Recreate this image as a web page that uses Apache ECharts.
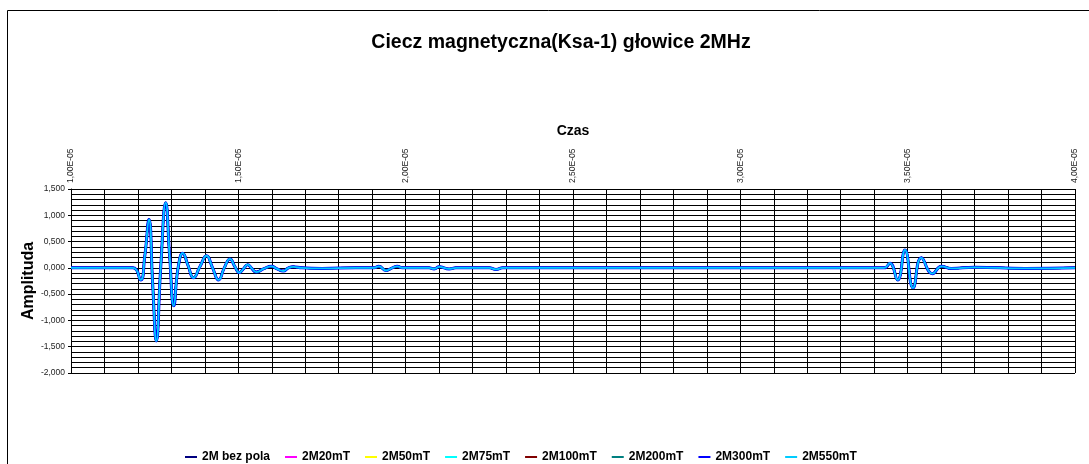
<!DOCTYPE html>
<html>
<head>
<meta charset="utf-8">
<script src="https://cdn.jsdelivr.net/npm/echarts@6/dist/echarts.min.js"></script>
<style>
html,body{margin:0;padding:0;background:#fff;}
#c{width:1089px;height:464px;}
</style>
</head>
<body>
<div id="c"></div>
<script>
// Time in microseconds (axis labels show seconds: 1,00E-05 ... 4,00E-05)
const timeUs = [10.0, 11.85, 12.08, 12.2, 12.33, 12.44, 12.55, 12.68, 12.83, 12.95, 13.07, 13.2, 13.34, 13.5, 13.66, 13.85, 14.05, 14.23, 14.41, 14.58, 14.75, 14.9, 15.03, 15.15, 15.28, 15.4, 15.53, 15.75, 15.99, 16.16, 16.34, 16.5, 16.64, 16.9, 17.5, 18.5, 19.05, 19.2, 19.41, 19.6, 19.75, 19.9, 20.7, 20.85, 21.0, 21.3, 21.5, 22.5, 22.7, 22.9, 34.3, 34.47, 34.7, 34.92, 35.16, 35.41, 35.74, 36.01, 36.3, 37.0, 38.5, 40.0];
// Amplitude (all eight series overlap almost exactly)
const ampAll = [0.0, 0.0, -0.23, 0.2, 0.92, -0.3, -1.39, 0.0, 1.24, 0.2, -0.72, 0.0, 0.28, 0.04, -0.19, 0.02, 0.23, 0.0, -0.23, 0.0, 0.17, 0.02, -0.09, -0.02, 0.06, -0.01, -0.08, -0.02, 0.03, -0.02, -0.06, 0.0, 0.02, 0.0, -0.01, 0.0, 0.0, 0.03, -0.05, 0.0, 0.03, 0.0, 0.0, -0.02, 0.02, -0.02, 0.0, 0.0, -0.03, 0.0, 0.0, 0.09, -0.23, 0.34, -0.38, 0.19, -0.11, 0.03, -0.01, 0.01, -0.01, 0.0];
const seriesNames = ['2M bez pola', '2M20mT', '2M50mT', '2M75mT', '2M100mT', '2M200mT', '2M300mT', '2M550mT'];
const seriesColors = ['#000080', '#FF00FF', '#FFFF00', '#00FFFF', '#800000', '#008080', '#0000FF', '#00CCFF'];
const seriesWidths = [2, 2, 2, 2, 2, 2, 3, 1.8];

const titleText = 'Ciecz magnetyczna(Ksa-1) głowice 2MHz';
const xName = 'Czas';
const yName = 'Amplituda';

const FONT = 'Arial, "Liberation Sans", sans-serif';
const chart = echarts.init(document.getElementById('c'), null, {renderer: 'canvas'});
const pts = timeUs.map((t, i) => [t, ampAll[i]]);

chart.setOption({
  animation: false,
  backgroundColor: '#fff',
  graphic: [
    {type: 'rect', shape: {x: 7.5, y: 10.5, width: 1200, height: 600}, style: {fill: 'none', stroke: '#000', lineWidth: 1}, silent: true, z: -10},
    {type: 'text', x: 561, y: 43, style: {text: titleText, font: 'bold 19.5px ' + FONT, fill: '#000', textAlign: 'center', textVerticalAlign: 'middle'}}
  ],
  grid: {left: 71, right: 14, top: 189, bottom: 91, containLabel: false},
  legend: {
    data: seriesNames,
    left: 180, top: 446,
    icon: 'rect', itemWidth: 12, itemHeight: 2, itemGap: 15,
    textStyle: {fontFamily: FONT, fontWeight: 'bold', fontSize: 12, color: '#000', padding: [0, 0, 0, 0]}
  },
  xAxis: {
    type: 'value', position: 'top', min: 10, max: 40, interval: 5,
    name: xName, nameLocation: 'middle', nameGap: 51,
    nameTextStyle: {fontFamily: FONT, fontWeight: 'bold', fontSize: 14, color: '#000'},
    axisLine: {show: true, lineStyle: {color: '#000', width: 1}},
    axisTick: {show: true, length: 4, lineStyle: {color: '#000'}},
    axisLabel: {
      rotate: 90, fontFamily: FONT, fontSize: 8.5, color: '#222', margin: 6,
      formatter: v => (v / 10).toFixed(2).replace('.', ',') + 'E-05'
    },
    splitLine: {show: true, lineStyle: {color: '#000', width: 1}},
    minorTick: {show: false, splitNumber: 5},
    minorSplitLine: {show: true, lineStyle: {color: '#000', width: 1}}
  },
  yAxis: {
    type: 'value', min: -2, max: 1.5, interval: 0.5,
    name: yName, nameLocation: 'middle', nameGap: 34, nameMoveOverlap: false,
    nameTextStyle: {fontFamily: FONT, fontWeight: 'bold', fontSize: 16, color: '#000'},
    axisLine: {show: true, lineStyle: {color: '#000', width: 1}},
    axisTick: {show: true, length: 3, lineStyle: {color: '#000'}},
    axisLabel: {
      fontFamily: FONT, fontSize: 8.5, color: '#222', margin: 6,
      formatter: v => v.toFixed(3).replace('.', ',')
    },
    splitLine: {show: true, lineStyle: {color: '#000', width: 1}},
    minorTick: {show: false, splitNumber: 5},
    minorSplitLine: {show: true, lineStyle: {color: '#000', width: 1}}
  },
  series: seriesNames.map((n, i) => ({
    name: n, type: 'line', data: pts, smooth: 0.5, showSymbol: false, symbol: 'none',
    color: seriesColors[i],
    lineStyle: {color: seriesColors[i], width: seriesWidths[i]},
    z: 2 + i
  }))
});
</script>
</body>
</html>
